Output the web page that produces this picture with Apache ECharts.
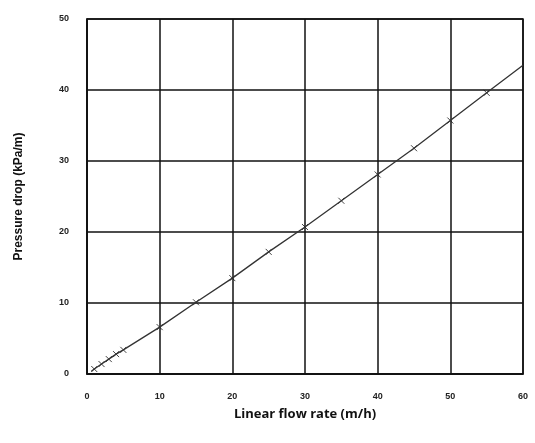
<!DOCTYPE html>
<html>
<head>
<meta charset="utf-8" />
<title>Pressure drop</title>
<script src="https://cdn.jsdelivr.net/npm/echarts@6/dist/echarts.min.js"></script>
</head>
<body style="margin:0;background:#fff;">
<div id="main" style="width:535px;height:443px;"></div>
<script>
// measured points (linear flow rate m/h -> pressure drop kPa/m)
var flowRate = [1, 2, 3, 4, 5, 10, 15, 20, 25, 30, 35, 40, 45, 50, 55];
var pressureDrop = [0.7, 1.4, 2.1, 2.8, 3.4, 6.6, 10.1, 13.5, 17.2, 20.7, 24.4, 28.1, 31.8, 35.7, 39.6];
// trend line start and end beyond the measured points
var trendStart = [0.6, 0.4];
var trendEnd = [60, 43.5];

var pts = flowRate.map(function (x, i) { return [x, pressureDrop[i]]; });
var trend = [trendStart].concat(pts, [trendEnd]);

var tickFont = { fontFamily: 'Liberation Sans', fontSize: 9, fontWeight: 'bold', color: '#222' };
var chart = echarts.init(document.getElementById('main'));
chart.setOption({
    animation: false,
    grid: { left: 87, top: 19, right: 12, bottom: 69, containLabel: false },
    xAxis: {
        type: 'value', min: 0, max: 60, interval: 10,
        name: 'Linear flow rate (m/h)', nameLocation: 'middle', nameGap: 34,
        nameTextStyle: { fontFamily: 'Open Sans', fontSize: 13, fontWeight: 'bold', color: '#111' },
        axisLine: { show: true, lineStyle: { color: '#111', width: 1.5 } },
        axisTick: { show: false },
        axisLabel: Object.assign({ margin: 18 }, tickFont),
        splitLine: { show: true, lineStyle: { color: '#111', width: 1.5 } }
    },
    yAxis: {
        type: 'value', min: 0, max: 50, interval: 10,
        name: 'Pressure drop (kPa/m)', nameLocation: 'middle', nameGap: 62,
        nameTextStyle: { fontFamily: 'Liberation Sans', fontSize: 12, fontWeight: 'bold', color: '#111' },
        axisLine: { show: true, lineStyle: { color: '#111', width: 1.5 } },
        axisTick: { show: false },
        axisLabel: Object.assign({ margin: 18 }, tickFont),
        splitLine: { show: true, lineStyle: { color: '#111', width: 1.5 } }
    },
    series: [
        {
            type: 'line', data: trend, symbol: 'none',
            lineStyle: { color: '#333', width: 1.3 }
        },
        {
            type: 'scatter', data: pts,
            symbol: 'path://M0,0L10,10M10,0L0,10', symbolSize: 6,
            itemStyle: { color: 'none', borderColor: '#111', borderWidth: 1 }
        }
    ]
});
// close the frame on top and right
var tl = chart.convertToPixel({ gridIndex: 0 }, [0, 50]);
var br = chart.convertToPixel({ gridIndex: 0 }, [60, 0]);
chart.setOption({
    graphic: [{
        type: 'rect', silent: true,
        shape: { x: tl[0], y: tl[1], width: br[0] - tl[0], height: br[1] - tl[1] },
        style: { fill: 'none', stroke: '#111', lineWidth: 1.5 }
    }]
});
</script>
</body>
</html>
